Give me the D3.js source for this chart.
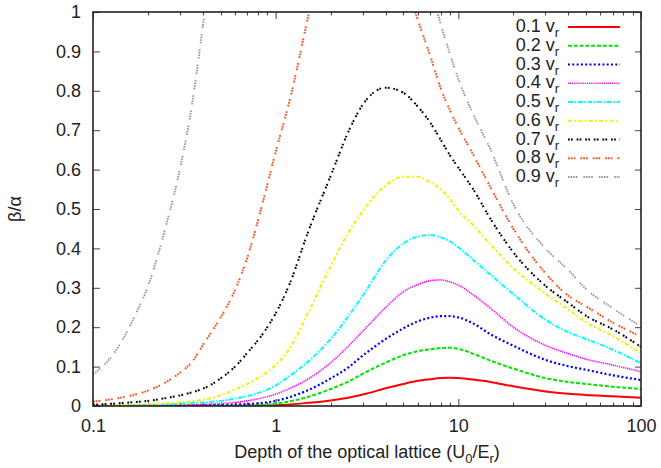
<!DOCTYPE html>
<html>
<head>
<meta charset="utf-8">
<script src="https://cdn.jsdelivr.net/npm/d3@7"></script>
<style>
  html, body { margin: 0; padding: 0; background: #fff; }
  svg { display: block; font-family: "Liberation Sans", Arial, Helvetica, sans-serif; }
</style>
</head>
<body>
<svg id="chart" width="661" height="468"></svg>
<script>
// Lattice depth U0/Er (log-spaced sample points)
const depth = [0.1, 0.13, 0.17, 0.2, 0.25, 0.3, 0.35, 0.4, 0.5, 0.6, 0.7, 0.85, 1, 1.2, 1.5, 2, 2.5, 3, 4, 5, 6, 7, 8, 9, 10, 12, 15, 20, 30, 40, 50, 70, 100];

// beta/alpha for each velocity (null = far above the plotted range)
const v01 = [0, 0, 0, 0, 0, 0, 0, 0, 0.0002, 0.0003, 0.0005, 0.001, 0.002, 0.004, 0.008, 0.014, 0.021, 0.029, 0.045, 0.056, 0.064, 0.068, 0.071, 0.072, 0.071, 0.067, 0.061, 0.05, 0.037, 0.031, 0.028, 0.025, 0.021];
const v02 = [0, 0, 0, 0, 0, 0, 0.0002, 0.0003, 0.0006, 0.001, 0.0016, 0.003, 0.006, 0.012, 0.023, 0.043, 0.062, 0.082, 0.11, 0.129, 0.139, 0.144, 0.147, 0.148, 0.145, 0.133, 0.115, 0.095, 0.071, 0.061, 0.056, 0.049, 0.043];
const v03 = [0.0001, 0.0002, 0.0003, 0.0004, 0.0006, 0.0009, 0.0012, 0.0016, 0.0025, 0.0035, 0.005, 0.008, 0.013, 0.023, 0.04, 0.07, 0.098, 0.128, 0.17, 0.197, 0.215, 0.224, 0.228, 0.228, 0.225, 0.21, 0.182, 0.153, 0.117, 0.101, 0.092, 0.078, 0.066];
const v04 = [0.0002, 0.0004, 0.0007, 0.001, 0.0015, 0.002, 0.003, 0.004, 0.006, 0.009, 0.013, 0.021, 0.03, 0.045, 0.068, 0.11, 0.152, 0.19, 0.25, 0.29, 0.308, 0.318, 0.32, 0.315, 0.307, 0.283, 0.248, 0.2, 0.154, 0.133, 0.119, 0.104, 0.087];
const v05 = [0.0005, 0.001, 0.002, 0.003, 0.004, 0.006, 0.008, 0.009, 0.013, 0.019, 0.025, 0.037, 0.052, 0.077, 0.112, 0.17, 0.228, 0.28, 0.369, 0.413, 0.43, 0.434, 0.428, 0.418, 0.403, 0.372, 0.333, 0.284, 0.219, 0.187, 0.17, 0.143, 0.108];
const v06 = [0.001, 0.002, 0.003, 0.004, 0.007, 0.009, 0.012, 0.016, 0.027, 0.042, 0.056, 0.078, 0.104, 0.148, 0.235, 0.355, 0.44, 0.495, 0.56, 0.582, 0.582, 0.568, 0.55, 0.525, 0.497, 0.46, 0.41, 0.35, 0.285, 0.245, 0.213, 0.178, 0.134];
const v07 = [0.003, 0.006, 0.01, 0.013, 0.02, 0.027, 0.035, 0.044, 0.07, 0.1, 0.135, 0.183, 0.235, 0.313, 0.44, 0.584, 0.696, 0.765, 0.808, 0.795, 0.76, 0.72, 0.676, 0.636, 0.605, 0.552, 0.475, 0.39, 0.305, 0.262, 0.229, 0.195, 0.15];
const v08 = [0.011, 0.018, 0.029, 0.039, 0.06, 0.085, 0.113, 0.155, 0.225, 0.295, 0.377, 0.517, 0.645, 0.78, 0.985, 1.25, null, null, null, 1.09, 0.98, 0.89, 0.807, 0.75, 0.707, 0.64, 0.555, 0.45, 0.337, 0.28, 0.253, 0.212, 0.176];
const v09 = [0.08, 0.133, 0.23, 0.304, 0.455, 0.604, 0.771, 0.967, 1.33, null, null, null, null, null, null, null, null, null, null, null, null, 1.07, 0.97, 0.893, 0.83, 0.743, 0.651, 0.512, 0.40, 0.345, 0.297, 0.248, 0.202];

const seriesLabels = ["0.1", "0.2", "0.3", "0.4", "0.5", "0.6", "0.7", "0.8", "0.9"];
const seriesValues = [v01, v02, v03, v04, v05, v06, v07, v08, v09];

const yTicks = [0, 0.1, 0.2, 0.3, 0.4, 0.5, 0.6, 0.7, 0.8, 0.9, 1];
const xTicks = [0.1, 1, 10, 100];
const xTickLabels = ["0.1", "1", "10", "100"];

// line styles, one per velocity
const styles = [
  { color: "#ff0000", width: 2,   dash: null },
  { color: "#00e600", width: 2,   dash: "4,1.8" },
  { color: "#0000ff", width: 2.2, dash: "2,2.3" },
  { color: "#ff00ff", width: 1.7, dash: "1.2,0.9" },
  { color: "#00ffff", width: 2,   dash: "5,1.6,1.5,1.6" },
  { color: "#f2f200", width: 2,   dash: "4,2.2,1.8,2.4" },
  { color: "#000000", width: 2,   dash: "1.8,1.2,1.8,3.8" },
  { color: "#ff5522", width: 2,   dash: "1.8,1,1.8,1,1.8,5" },
  { color: "#999999", width: 1.9, dash: "1.6,1,1.6,1,1.6,1,1.6,6" }
];

const svg = d3.select("#chart");
const L = 93, R = 641, T = 12, B = 406;
const fs = 18;

const x = d3.scaleLog().domain([0.1, 100]).range([L, R]);
const y = d3.scaleLinear().domain([0, 1]).range([B, T]);

svg.append("defs").append("clipPath").attr("id", "plotClip")
  .append("rect").attr("x", L).attr("y", T).attr("width", R - L).attr("height", B - T);

// minor ticks on the log axis (bottom and top, pointing inward)
const minor = [];
[0.1, 1, 10].forEach(d => { for (let k = 2; k <= 9; k++) minor.push(d * k); });
const tickG = svg.append("g").attr("stroke", "#444").attr("stroke-width", 1);
minor.forEach(v => {
  const px = Math.round(x(v)) + 0.5;
  tickG.append("line").attr("x1", px).attr("x2", px).attr("y1", B).attr("y2", B - 3.5);
  tickG.append("line").attr("x1", px).attr("x2", px).attr("y1", T).attr("y2", T + 3.5);
});

// axes
const gLeft = svg.append("g").attr("transform", `translate(${L},0)`)
  .call(d3.axisLeft(y).tickValues(yTicks).tickSize(-7).tickPadding(12).tickFormat(d3.format("~g")));
const gRight = svg.append("g").attr("transform", `translate(${R},0)`)
  .call(d3.axisRight(y).tickValues(yTicks).tickSize(-6).tickFormat(""));
const gBottom = svg.append("g").attr("transform", `translate(0,${B})`)
  .call(d3.axisBottom(x).tickValues(xTicks).tickSize(-7).tickPadding(13)
    .tickFormat((d, i) => xTickLabels[i]));
const gTop = svg.append("g").attr("transform", `translate(0,${T})`)
  .call(d3.axisTop(x).tickValues(xTicks).tickSize(-7).tickFormat(""));

[gLeft, gRight, gBottom, gTop].forEach(g => {
  g.select(".domain").remove();
  g.selectAll(".tick line").attr("stroke", "#444");
  g.selectAll("text").attr("font-size", fs).attr("fill", "#222")
    .attr("font-family", "Liberation Sans, Arial, sans-serif");
});

// curves
const line = d3.line()
  .defined(d => d[1] !== null)
  .x(d => x(d[0]))
  .y(d => y(d[1]))
  .curve(d3.curveMonotoneX);

const plot = svg.append("g").attr("clip-path", "url(#plotClip)");
seriesValues.forEach((vals, i) => {
  const st = styles[i];
  plot.append("path")
    .datum(depth.map((d, j) => [d, vals[j]]))
    .attr("fill", "none")
    .attr("stroke", st.color)
    .attr("stroke-width", st.width)
    .attr("stroke-dasharray", st.dash)
    .attr("d", line);
});

// frame
svg.append("rect").attr("x", L).attr("y", T).attr("width", R - L).attr("height", B - T)
  .attr("fill", "none").attr("stroke", "#222").attr("stroke-width", 1.6);

// legend
const lg = svg.append("g");
seriesLabels.forEach((lab, i) => {
  const cy = 27 + i * 18.75;
  const st = styles[i];
  lg.append("line").attr("x1", 568).attr("x2", 620).attr("y1", cy).attr("y2", cy)
    .attr("stroke", st.color).attr("stroke-width", st.width)
    .attr("stroke-dasharray", st.dash);
  const t = lg.append("text").attr("x", 559).attr("y", cy + 5)
    .attr("text-anchor", "end").attr("font-size", fs).attr("fill", "#222");
  t.append("tspan").text(lab + " v");
  t.append("tspan").attr("font-size", 13).attr("dy", 5).text("r");
});

// axis titles
svg.append("text")
  .attr("transform", "translate(21,209) rotate(-90)")
  .attr("text-anchor", "middle").attr("font-size", fs).attr("fill", "#222")
  .text("β/α");

const xt = svg.append("text").attr("x", (L + R) / 2).attr("y", 458)
  .attr("text-anchor", "middle").attr("font-size", fs).attr("fill", "#222");
xt.append("tspan").text("Depth of the optical lattice (U");
xt.append("tspan").attr("font-size", 13).attr("dy", 5).text("0");
xt.append("tspan").attr("dy", -5).text("/E");
xt.append("tspan").attr("font-size", 13).attr("dy", 5).text("r");
xt.append("tspan").attr("dy", -5).text(")");
</script>
</body>
</html>
